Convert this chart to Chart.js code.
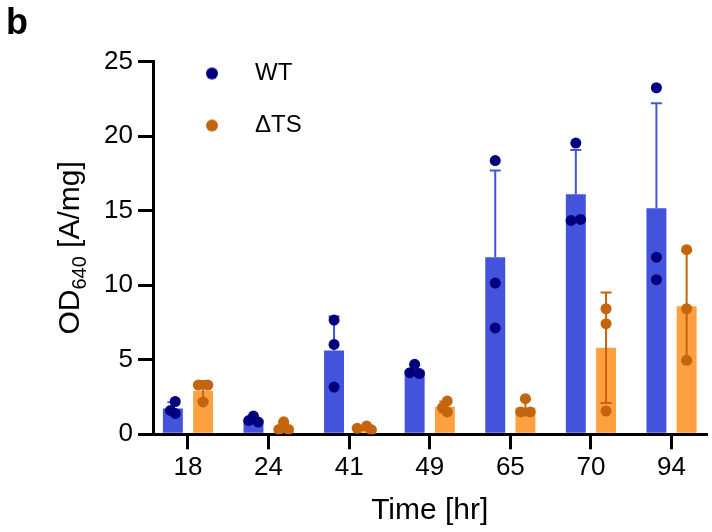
<!DOCTYPE html>
<html>
<head>
<meta charset="utf-8">
<script src="https://cdn.jsdelivr.net/npm/chart.js@4.4.1/dist/chart.umd.min.js"></script>
<style>
  html, body { margin: 0; padding: 0; background: #fff; overflow: hidden; }
  #wrap { width: 712px; height: 532px; }
</style>
</head>
<body>
<div id="wrap"><canvas id="c" width="712" height="532"></canvas></div>
<script>
(function () {
  'use strict';

  // ---- data ----
  const categories = ['18', '24', '41', '49', '65', '70', '94'];
  const wtReps = [
    [2.2, 1.6, 1.4],
    [1.22, 0.82, 0.92],
    [7.66, 6.03, 3.17],
    [4.69, 4.07, 4.13],
    [18.36, 10.14, 7.13],
    [19.53, 14.34, 14.41],
    [23.24, 11.88, 10.37],
  ];
  const tsReps = [
    [3.3, 3.3, 2.17],
    [0.84, 0.33, 0.33],
    [0.55, 0.3, 0.4],
    [2.23, 1.5, 1.79],
    [2.39, 1.5, 1.5],
    [8.42, 7.42, 1.56],
    [12.38, 8.42, 4.96],
  ];
  const yTicks = [0, 5, 10, 15, 20, 25];

  const FONT = '"Liberation Sans", Arial, Helvetica, sans-serif';
  const WT_BAR = '#4353DB', WT_DOT = '#00007F';
  const TS_BAR = '#FFA040', TS_DOT = '#C4640C';

  const CAT_PCT = 0.75;          // share of a category used by the bar pair
  const SHIFT = CAT_PCT / 4;     // centre of each bar relative to the tick
  const XMIN = -0.434, XMAX = 6.434;

  const mean = a => a.reduce((s, v) => s + v, 0) / a.length;
  const sd = a => {
    const m = mean(a);
    return Math.sqrt(a.reduce((s, v) => s + (v - m) ** 2, 0) / (a.length - 1));
  };

  // rough px per unit, only used to keep replicate dots from piling up
  const PX_X = 81.4, PX_Y = 14.9, HX = 5, HY = 10;
  function spread(vals) {
    const order = vals.map((_, i) => i).sort((a, b) => vals[b] - vals[a]);
    const off = vals.map(() => 0);
    const placed = [];
    const clash = (dx, dy) => (dx / HX) ** 2 + (dy / HY) ** 2 < 1;
    order.forEach(i => {
      for (const dx of [0, -4.8, 4.8, -9.6, 9.6, -14.4, 14.4]) {
        const ok = placed.every(j => !clash(dx - off[j], (vals[i] - vals[j]) * PX_Y));
        if (ok) { off[i] = dx; break; }
      }
      placed.push(i);
    });
    // centre each run of touching dots
    let run = [order[0]];
    const flush = () => {
      const xs = run.map(k => off[k]);
      const c = (Math.min(...xs) + Math.max(...xs)) / 2;
      run.forEach(k => { off[k] -= c; });
    };
    for (let n = 1; n < order.length; n++) {
      if ((vals[order[n - 1]] - vals[order[n]]) * PX_Y < HY) run.push(order[n]);
      else { flush(); run = [order[n]]; }
    }
    flush();
    return off.map(d => d / PX_X);
  }

  const barData = reps => reps.map((r, i) => ({ x: i, y: mean(r) }));
  const dotData = (reps, shift) => reps.flatMap((r, i) => {
    const off = spread(r);
    return r.map((v, k) => ({ x: i + shift + off[k], y: v }));
  });

  // small round swatch for the legend
  const dotIcon = color => {
    const c = document.createElement('canvas');
    c.width = c.height = 14;
    const g = c.getContext('2d');
    g.fillStyle = color;
    g.beginPath();
    g.arc(7, 7, 6, 0, Math.PI * 2);
    g.fill();
    return c;
  };

  // error bars (mean + SD), drawn right after their bar dataset
  const errorBars = {
    id: 'errorBars',
    afterDatasetDraw(chart, args) {
      const ds = chart.data.datasets[args.index];
      if (!ds.reps) return;
      const y = chart.scales.y;
      const ctx = chart.ctx;
      ctx.save();
      ctx.strokeStyle = ds.errColor;
      ctx.lineWidth = 2;
      args.meta.data.forEach((bar, i) => {
        const m = mean(ds.reps[i]), s = sd(ds.reps[i]);
        const top = y.getPixelForValue(m + s);
        const bot = ds.bothSides ? y.getPixelForValue(Math.max(m - s, 0)) : y.getPixelForValue(m);
        ctx.beginPath();
        ctx.moveTo(bar.x, top); ctx.lineTo(bar.x, bot);
        ctx.moveTo(bar.x - 5.5, top); ctx.lineTo(bar.x + 5.5, top);
        if (ds.bothSides) { ctx.moveTo(bar.x - 5.5, bot); ctx.lineTo(bar.x + 5.5, bot); }
        ctx.stroke();
      });
      ctx.restore();
    }
  };

  // y title with a real subscript
  const yTitle = {
    id: 'yTitle',
    afterDraw(chart) {
      const { ctx, chartArea } = chart;
      const parts = [['OD', 30, 0], ['640', 20, 7], [' [A/mg]', 30, 0]];
      ctx.save();
      ctx.translate(chartArea.left - 74, (chartArea.top + chartArea.bottom) / 2);
      ctx.rotate(-Math.PI / 2);
      ctx.fillStyle = '#000';
      ctx.textBaseline = 'alphabetic';
      const widths = parts.map(([t, s]) => { ctx.font = s + 'px ' + FONT; return ctx.measureText(t).width; });
      let x = -widths.reduce((a, b) => a + b, 0) / 2;
      parts.forEach(([t, s, dy], i) => {
        ctx.font = s + 'px ' + FONT;
        ctx.fillText(t, x, dy);
        x += widths[i];
      });
      ctx.restore();
    }
  };

  // legend sits in the top-left corner of the plot
  const legendNudge = {
    id: 'legendNudge',
    afterLayout(chart) {
      const lg = chart.legend, a = chart.chartArea;
      const p = lg.options.labels.padding;
      lg.left = a.left; lg.right = a.right;
      lg.top = a.top - p; lg.bottom = a.bottom;
    }
  };

  Chart.defaults.font.family = FONT;
  Chart.defaults.color = '#000';

  const axisGrid = { drawOnChartArea: false, offset: false, color: '#000', lineWidth: 3, tickLength: 15, tickWidth: 3, tickColor: '#000' };

  new Chart(document.getElementById('c'), {
    type: 'bar',
    data: {
      datasets: [
        { label: 'WT', data: barData(wtReps), backgroundColor: WT_BAR, reps: wtReps, errColor: WT_BAR, bothSides: false,
          categoryPercentage: CAT_PCT, barPercentage: 0.66, order: 1 },
        { label: 'ΔTS', data: barData(tsReps), backgroundColor: TS_BAR, reps: tsReps, errColor: TS_DOT, bothSides: true,
          categoryPercentage: CAT_PCT, barPercentage: 0.66, order: 1 },
        { type: 'scatter', label: 'WT', data: dotData(wtReps, -SHIFT), backgroundColor: WT_DOT, borderWidth: 0,
          pointRadius: 5.5, pointStyle: 'circle', order: 0 },
        { type: 'scatter', label: 'ΔTS', data: dotData(tsReps, SHIFT), backgroundColor: TS_DOT, borderWidth: 0,
          pointRadius: 5.5, pointStyle: 'circle', order: 0 },
      ],
    },
    options: {
      responsive: false,
      animation: false,
      devicePixelRatio: 1,
      events: [],
      layout: { padding: { left: 6, top: 0, right: 0, bottom: 0 } },
      plugins: {
        tooltip: { enabled: false },
        title: {
          display: true, text: 'b', align: 'start', color: '#000',
          font: { size: 36, weight: 'bold', lineHeight: 1 },
          padding: { top: 6, bottom: 19.5 },
        },
        legend: {
          position: 'chartArea',
          align: 'start',
          labels: {
            generateLabels: chart => Chart.defaults.plugins.legend.labels.generateLabels(chart)
              .filter(it => it.datasetIndex >= 2)
              .map(it => ({ ...it, pointStyle: dotIcon(it.fillStyle) })),
            usePointStyle: true,
            pointStyleWidth: 62,
            padding: 28,
            font: { size: 24 },
            color: '#000',
          },
        },
      },
      scales: {
        x: {
          type: 'linear',
          offset: false,
          min: XMIN, max: XMAX,
          afterBuildTicks: s => { s.ticks = categories.map((_, i) => ({ value: i })); },
          afterFit: s => { s.height = 97.7; },
          ticks: { callback: v => categories[v] ?? '', font: { size: 26 }, padding: 3, maxRotation: 0, autoSkip: false },
          grid: axisGrid,
          border: { display: true, width: 3, color: '#000' },
          title: { display: true, text: 'Time [hr]', font: { size: 30 }, padding: { top: 0, bottom: 3 } },
        },
        y: {
          min: 0, max: 25,
          afterBuildTicks: s => { s.ticks = yTicks.map(v => ({ value: v })); },
          afterFit: s => { s.width = 147; },
          ticks: { font: { size: 26 }, padding: 5 },
          grid: axisGrid,
          border: { display: true, width: 3, color: '#000' },
        },
      },
    },
    plugins: [errorBars, yTitle, legendNudge],
  });
})();
</script>
</body>
</html>
